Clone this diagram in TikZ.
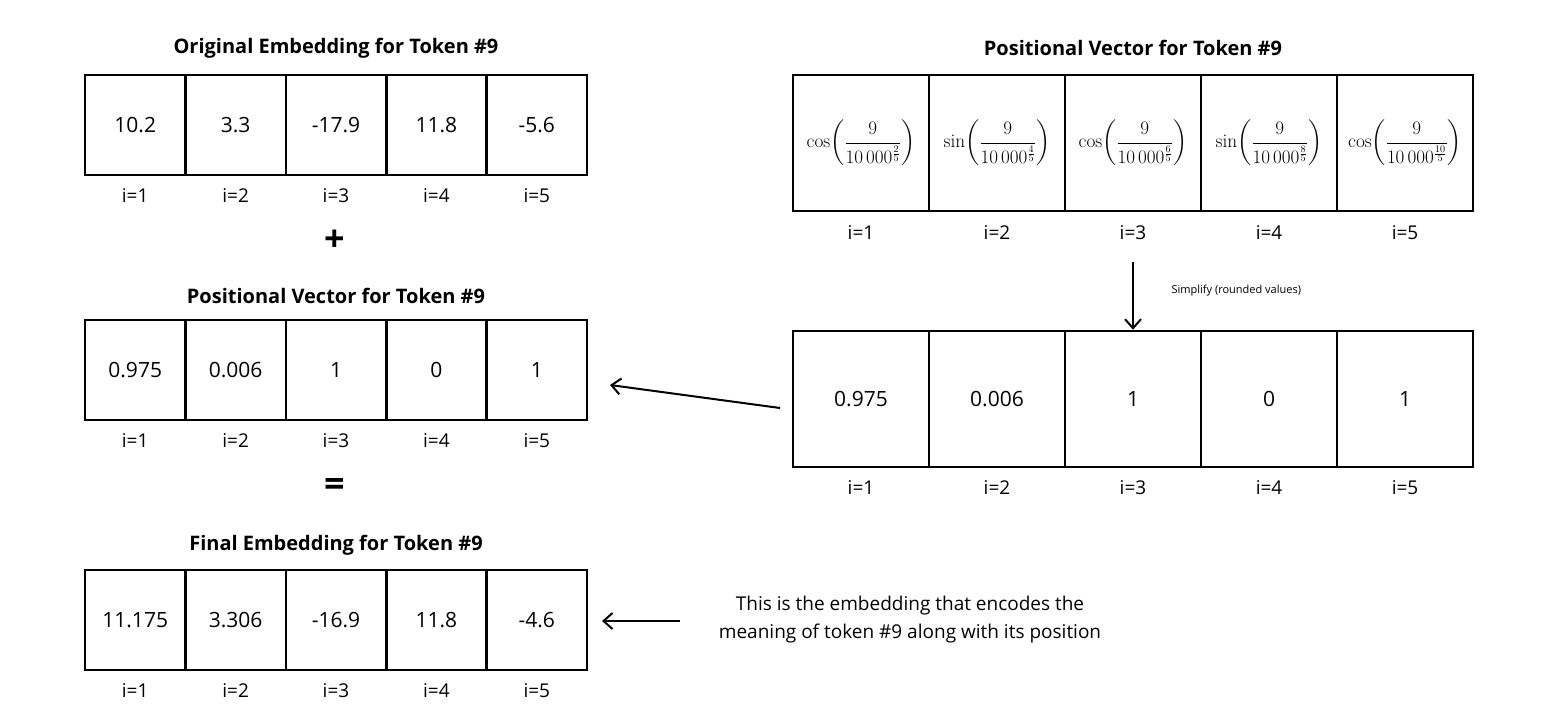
\documentclass[tikz,border=0pt]{standalone}
\usepackage{amsmath}
\usepackage{graphicx}
\usepackage{fontspec}
\setmainfont{Open Sans}
\newfontfamily\lmr{Latin Modern Roman}
\usetikzlibrary{arrows.meta}
\begin{document}
\begin{tikzpicture}[x=1pt,y=-1pt,
  cell/.style={draw,line width=2.6pt,minimum height=100pt,inner sep=0pt,font=\fontsize{21}{24}\selectfont},
  bcell/.style={draw,line width=2.6pt,minimum height=136pt,minimum width=136pt,inner sep=0pt,font=\fontsize{21}{24}\selectfont},
  lab/.style={font=\fontsize{19}{22}\selectfont},
  ttl/.style={font=\bfseries\fontsize{20}{24}\selectfont},
  arr/.style={line width=2pt,-{Straight Barb[length=9pt,width=16pt]}}]
\useasboundingbox (0,0) rectangle (1560,711);
\def\row#1#2#3{%
  \foreach \v [count=\k] in {#3} {
    \node[cell,minimum width=100.4pt] (#1c\k) at ({85+50.2+100.4*(\k-1)},#2) {\v};
    \node[lab] (#1l\k) at ({85+50.2+100.4*(\k-1)},#2+71) {i=\k};
  }}
\node[ttl] (t1) at (336,48) {Original Embedding for Token \#9};
\row{a}{125}{10.2,3.3,-17.9,11.8,-5.6}
\node[font=\bfseries\fontsize{36}{36}\selectfont] (plus) at (335,241) {+};
\node[ttl] (t2) at (336,296) {Positional Vector for Token \#9};
\row{b}{370}{0.975,0.006,1,0,1}
\node[font=\bfseries\fontsize{36}{36}\selectfont] (eq) at (335,487) {=};
\node[ttl] (t3) at (336,545) {Final Embedding for Token \#9};
\row{c}{620}{11.175,3.306,-16.9,11.8,-4.6}
\node[ttl] (t4) at (1133,48) {Positional Vector for Token \#9};
\foreach \f/\e [count=\k] in {cos/2,sin/4,cos/6,sin/8,cos/10} {
  \node[bcell] (p\k) at ({793+68+136*(\k-1)},143)
    {\scalebox{0.92}{$\displaystyle \text{\lmr\f}\!\left(\frac{9}{10\,000^{\frac{\e}{5}}}\right)$}};
  \node[lab] (pl\k) at ({793+68+136*(\k-1)},233) {i=\k};
}
\foreach \v [count=\k] in {0.975,0.006,1,0,1} {
  \node[bcell] (q\k) at ({793+68+136*(\k-1)},399) {\v};
  \node[lab] (ql\k) at ({793+68+136*(\k-1)},488) {i=\k};
}
\coordinate (s1) at (1133,262);
\draw[arr] (s1) -- (p3.south |- q3.north);
\node[anchor=west,font=\fontsize{11}{13}\selectfont] (st) at (1168,291) {Simplify (rounded values)};
\coordinate (a1) at (780,408);
\coordinate (a2) at (610,385);
\draw[arr] (a1) -- (a2);
\coordinate (b1) at (680,621);
\coordinate (b2) at (602,621);
\draw[arr] (b1) -- (b2);
\node[align=center,font=\fontsize{19}{28}\selectfont] (note) at (910,620) {This is the embedding that encodes the\\meaning of token \#9 along with its position};
\end{tikzpicture}
\end{document}
